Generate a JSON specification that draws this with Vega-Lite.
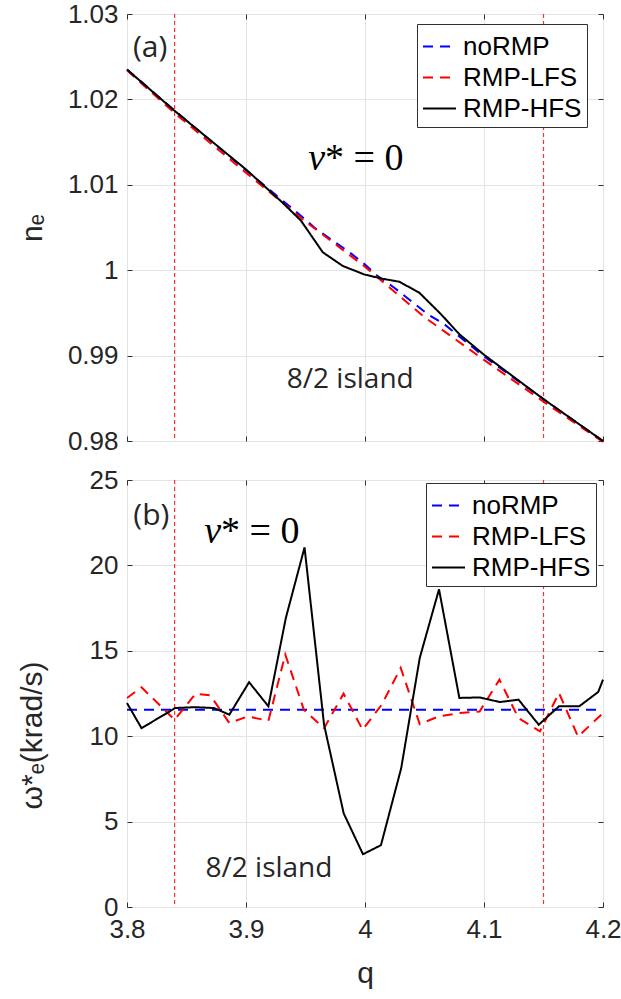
{
  "$schema": "https://vega.github.io/schema/vega-lite/v6.json",
  "padding": {"left": 16, "top": 0, "right": 0, "bottom": 0},
  "autosize": {"type": "pad"},
  "background": "white",
  "spacing": 39,
  "bounds": "flush",
  "config": {
    "font": "Liberation Sans",
    "view": {"stroke": "#303030", "strokeWidth": 1},
    "axis": {
      "labelFont": "Liberation Sans", "labelFontSize": 26, "labelColor": "#262626",
      "tickColor": "#303030", "domain": false, "gridColor": "#e4e4e4", "gridWidth": 1,
      "titleFont": "Liberation Sans", "titleFontSize": 30, "titleFontWeight": "normal", "titleColor": "#262626",
      "labelFlush": false, "labelOverlap": false, "labelBound": false
    },
    "legend": {
      "symbolType": "stroke", "symbolSize": 1089, "symbolStrokeWidth": 2,
      "labelFont": "Liberation Sans", "labelFontSize": 26, "labelColor": "#000000",
      "strokeColor": "#303030", "fillColor": "white", "padding": 5, "rowPadding": 0,
      "labelOffset": 6, "labelLimit": 300
    }
  },
  "datasets": {
    "ne": [
      {"q": 3.8, "v": 1.0235, "series": "noRMP"},
      {"q": 3.84, "v": 1.0187, "series": "noRMP"},
      {"q": 3.9, "v": 1.0117, "series": "noRMP"},
      {"q": 3.9434, "v": 1.0067, "series": "noRMP"},
      {"q": 3.9574, "v": 1.0050, "series": "noRMP"},
      {"q": 3.9714, "v": 1.0036, "series": "noRMP"},
      {"q": 3.9855, "v": 1.00225, "series": "noRMP"},
      {"q": 3.998, "v": 1.0009, "series": "noRMP"},
      {"q": 4.0107, "v": 0.9993, "series": "noRMP"},
      {"q": 4.0246, "v": 0.99795, "series": "noRMP"},
      {"q": 4.0387, "v": 0.99639, "series": "noRMP"},
      {"q": 4.0527, "v": 0.99484, "series": "noRMP"},
      {"q": 4.0667, "v": 0.99367, "series": "noRMP"},
      {"q": 4.1, "v": 0.9899, "series": "noRMP"},
      {"q": 4.15, "v": 0.9849, "series": "noRMP"},
      {"q": 4.2, "v": 0.98, "series": "noRMP"},
      {"q": 3.8, "v": 1.0234, "series": "RMP-LFS"},
      {"q": 3.84, "v": 1.0184, "series": "RMP-LFS"},
      {"q": 3.9, "v": 1.0114, "series": "RMP-LFS"},
      {"q": 3.95, "v": 1.0057, "series": "RMP-LFS"},
      {"q": 4.0, "v": 1.0004, "series": "RMP-LFS"},
      {"q": 4.05, "v": 0.9945, "series": "RMP-LFS"},
      {"q": 4.1, "v": 0.9895, "series": "RMP-LFS"},
      {"q": 4.15, "v": 0.9846, "series": "RMP-LFS"},
      {"q": 4.2, "v": 0.9799, "series": "RMP-LFS"},
      {"q": 3.8, "v": 1.0235, "series": "RMP-HFS"},
      {"q": 3.8405, "v": 1.0186, "series": "RMP-HFS"},
      {"q": 3.9, "v": 1.0118, "series": "RMP-HFS"},
      {"q": 3.9308, "v": 1.0079, "series": "RMP-HFS"},
      {"q": 3.9462, "v": 1.0058, "series": "RMP-HFS"},
      {"q": 3.9645, "v": 1.0021, "series": "RMP-HFS"},
      {"q": 3.9813, "v": 1.0005, "series": "RMP-HFS"},
      {"q": 3.9994, "v": 0.9995, "series": "RMP-HFS"},
      {"q": 4.0147, "v": 0.999, "series": "RMP-HFS"},
      {"q": 4.0288, "v": 0.99865, "series": "RMP-HFS"},
      {"q": 4.0456, "v": 0.99737, "series": "RMP-HFS"},
      {"q": 4.0639, "v": 0.99484, "series": "RMP-HFS"},
      {"q": 4.0793, "v": 0.9925, "series": "RMP-HFS"},
      {"q": 4.1, "v": 0.9901, "series": "RMP-HFS"},
      {"q": 4.15, "v": 0.9849, "series": "RMP-HFS"},
      {"q": 4.2, "v": 0.98, "series": "RMP-HFS"}
    ],
    "omega": [
      {"q": 3.8, "v": 11.55, "series": "noRMP"},
      {"q": 4.2, "v": 11.55, "series": "noRMP"},
      {"q": 3.8, "v": 12.24, "series": "RMP-LFS"},
      {"q": 3.8122, "v": 12.86, "series": "RMP-LFS"},
      {"q": 3.84, "v": 10.96, "series": "RMP-LFS"},
      {"q": 3.8577, "v": 12.49, "series": "RMP-LFS"},
      {"q": 3.870, "v": 12.39, "series": "RMP-LFS"},
      {"q": 3.886, "v": 10.77, "series": "RMP-LFS"},
      {"q": 3.9017, "v": 11.16, "series": "RMP-LFS"},
      {"q": 3.9188, "v": 10.9, "series": "RMP-LFS"},
      {"q": 3.933, "v": 14.78, "series": "RMP-LFS"},
      {"q": 3.9486, "v": 11.55, "series": "RMP-LFS"},
      {"q": 3.9656, "v": 10.47, "series": "RMP-LFS"},
      {"q": 3.982, "v": 12.49, "series": "RMP-LFS"},
      {"q": 3.998, "v": 10.38, "series": "RMP-LFS"},
      {"q": 4.014, "v": 11.84, "series": "RMP-LFS"},
      {"q": 4.030, "v": 14.0, "series": "RMP-LFS"},
      {"q": 4.046, "v": 10.71, "series": "RMP-LFS"},
      {"q": 4.062, "v": 11.16, "series": "RMP-LFS"},
      {"q": 4.079, "v": 11.35, "series": "RMP-LFS"},
      {"q": 4.0963, "v": 11.45, "series": "RMP-LFS"},
      {"q": 4.113, "v": 13.31, "series": "RMP-LFS"},
      {"q": 4.129, "v": 11.06, "series": "RMP-LFS"},
      {"q": 4.147, "v": 10.28, "series": "RMP-LFS"},
      {"q": 4.163, "v": 12.53, "series": "RMP-LFS"},
      {"q": 4.179, "v": 9.98, "series": "RMP-LFS"},
      {"q": 4.2, "v": 11.35, "series": "RMP-LFS"},
      {"q": 3.8, "v": 11.94, "series": "RMP-HFS"},
      {"q": 3.8122, "v": 10.47, "series": "RMP-HFS"},
      {"q": 3.8406, "v": 11.65, "series": "RMP-HFS"},
      {"q": 3.857, "v": 11.7, "series": "RMP-HFS"},
      {"q": 3.873, "v": 11.65, "series": "RMP-HFS"},
      {"q": 3.886, "v": 11.26, "series": "RMP-HFS"},
      {"q": 3.9026, "v": 13.16, "series": "RMP-HFS"},
      {"q": 3.9188, "v": 11.75, "series": "RMP-HFS"},
      {"q": 3.9335, "v": 16.93, "series": "RMP-HFS"},
      {"q": 3.9492, "v": 21.05, "series": "RMP-HFS"},
      {"q": 3.9656, "v": 10.67, "series": "RMP-HFS"},
      {"q": 3.9821, "v": 5.48, "series": "RMP-HFS"},
      {"q": 3.9983, "v": 3.09, "series": "RMP-HFS"},
      {"q": 4.0134, "v": 3.62, "series": "RMP-HFS"},
      {"q": 4.0304, "v": 8.12, "series": "RMP-HFS"},
      {"q": 4.046, "v": 14.58, "series": "RMP-HFS"},
      {"q": 4.0622, "v": 18.6, "series": "RMP-HFS"},
      {"q": 4.0793, "v": 12.24, "series": "RMP-HFS"},
      {"q": 4.0963, "v": 12.27, "series": "RMP-HFS"},
      {"q": 4.1134, "v": 12.0, "series": "RMP-HFS"},
      {"q": 4.129, "v": 12.14, "series": "RMP-HFS"},
      {"q": 4.146, "v": 10.67, "series": "RMP-HFS"},
      {"q": 4.163, "v": 11.75, "series": "RMP-HFS"},
      {"q": 4.18, "v": 11.75, "series": "RMP-HFS"},
      {"q": 4.196, "v": 12.59, "series": "RMP-HFS"},
      {"q": 4.2, "v": 13.31, "series": "RMP-HFS"}
    ],
    "islandEdges": [{"q": 3.84}, {"q": 4.15}],
    "annA": [
      {"q": 3.8194, "v": 1.026, "kind": "panel", "t": "(a)"},
      {"q": 3.9876, "v": 0.9871, "kind": "island", "t": "8/2 island"},
      {"q": 3.9664, "v": 1.0117, "kind": "nu", "t": "ν"},
      {"q": 3.9664, "v": 1.0117, "kind": "eq", "t": "* = 0"}
    ],
    "annB": [
      {"q": 3.8205, "v": 22.9, "kind": "panel", "t": "(b)"},
      {"q": 3.9193, "v": 2.21, "kind": "island", "t": "8/2 island"},
      {"q": 3.879, "v": 21.34, "kind": "nu", "t": "ν"},
      {"q": 3.879, "v": 21.34, "kind": "eq", "t": "* = 0"}
    ]
  },
  "resolve": {
    "scale": {"color": "independent", "strokeDash": "independent"},
    "legend": {"color": "independent", "strokeDash": "independent"}
  },
  "vconcat": [
    {
      "width": 476,
      "height": 427,
      "resolve": {"axis": {"x": "independent", "y": "independent"}},
      "layer": [
        {
          "data": {"name": "islandEdges"},
          "mark": {"type": "rule", "color": "#ff3030", "strokeDash": [4, 3], "strokeWidth": 1.2},
          "encoding": {
            "x": {"field": "q", "type": "quantitative", "scale": {"domain": [3.8, 4.2], "nice": false, "zero": false},
                  "axis": {"orient": "top", "labels": false, "grid": false, "tickSize": -5, "values": [3.8, 3.9, 4, 4.1, 4.2], "title": null}}
          }
        },
        {
          "data": {"name": "ne"},
          "mark": {"type": "line", "strokeWidth": 2},
          "encoding": {
            "x": {"field": "q", "type": "quantitative", "scale": {"domain": [3.8, 4.2], "nice": false, "zero": false},
                  "axis": {"orient": "bottom", "labels": false, "grid": true, "tickSize": -5, "values": [3.8, 3.9, 4, 4.1, 4.2], "title": null}},
            "y": {"field": "v", "type": "quantitative", "scale": {"domain": [0.98, 1.03], "nice": false, "zero": false},
                  "axis": {"orient": "left", "grid": true, "tickSize": -5, "labelPadding": 14, "values": [0.98, 0.99, 1, 1.01, 1.02, 1.03], "format": "~g", "title": "nₑ", "titleX": -95, "titleBaseline": "middle"}},
            "color": {"field": "series", "type": "nominal",
                      "scale": {"domain": ["noRMP", "RMP-LFS", "RMP-HFS"], "range": ["#0000ff", "#ff0000", "#000000"]},
                      "legend": {"orient": "none", "legendX": 290, "legendY": 10, "title": null}},
            "strokeDash": {"field": "series", "type": "nominal",
                      "scale": {"domain": ["noRMP", "RMP-LFS", "RMP-HFS"], "range": [[10, 7], [10, 7], [1, 0]]},
                      "legend": {"orient": "none", "legendX": 290, "legendY": 10, "title": null}}
          }
        },
        {
          "data": {"name": "annA"},
          "transform": [{"filter": "datum.kind == 'panel'"}],
          "mark": {"type": "text", "font": "Open Sans", "fontSize": 30, "color": "#262626", "align": "center", "baseline": "middle"},
          "encoding": {
            "x": {"field": "q", "type": "quantitative", "axis": null},
            "y": {"field": "v", "type": "quantitative", "axis": {"orient": "right", "labels": false, "grid": false, "tickSize": -5, "values": [0.98, 0.99, 1, 1.01, 1.02, 1.03], "title": null}},
            "text": {"field": "t"}
          }
        },
        {
          "data": {"name": "annA"},
          "transform": [{"filter": "datum.kind == 'island'"}],
          "mark": {"type": "text", "font": "Open Sans", "fontSize": 28, "color": "#262626", "align": "center", "baseline": "middle"},
          "encoding": {
            "x": {"field": "q", "type": "quantitative", "axis": null},
            "y": {"field": "v", "type": "quantitative", "axis": null},
            "text": {"field": "t"}
          }
        },
        {
          "data": {"name": "annA"},
          "transform": [{"filter": "datum.kind == 'nu'"}],
          "mark": {"type": "text", "font": "Liberation Serif", "fontStyle": "italic", "fontSize": 38, "color": "#000000", "align": "right", "baseline": "alphabetic"},
          "encoding": {
            "x": {"field": "q", "type": "quantitative", "axis": null},
            "y": {"field": "v", "type": "quantitative", "axis": null},
            "text": {"field": "t"}
          }
        },
        {
          "data": {"name": "annA"},
          "transform": [{"filter": "datum.kind == 'eq'"}],
          "mark": {"type": "text", "font": "Liberation Serif", "fontSize": 38, "color": "#000000", "align": "left", "baseline": "alphabetic"},
          "encoding": {
            "x": {"field": "q", "type": "quantitative", "axis": null},
            "y": {"field": "v", "type": "quantitative", "axis": null},
            "text": {"field": "t"}
          }
        }
      ]
    },
    {
      "width": 476,
      "height": 427,
      "resolve": {"axis": {"x": "independent", "y": "independent"}},
      "layer": [
        {
          "data": {"name": "islandEdges"},
          "mark": {"type": "rule", "color": "#ff3030", "strokeDash": [4, 3], "strokeWidth": 1.2},
          "encoding": {
            "x": {"field": "q", "type": "quantitative", "scale": {"domain": [3.8, 4.2], "nice": false, "zero": false},
                  "axis": {"orient": "top", "labels": false, "grid": false, "tickSize": -5, "values": [3.8, 3.9, 4, 4.1, 4.2], "title": null}}
          }
        },
        {
          "data": {"name": "omega"},
          "mark": {"type": "line", "strokeWidth": 2},
          "encoding": {
            "x": {"field": "q", "type": "quantitative", "scale": {"domain": [3.8, 4.2], "nice": false, "zero": false},
                  "axis": {"orient": "bottom", "grid": true, "tickSize": -5, "labelPadding": 14, "values": [3.8, 3.9, 4, 4.1, 4.2], "format": "~g", "title": "q", "titlePadding": 16}},
            "y": {"field": "v", "type": "quantitative", "scale": {"domain": [0, 25], "nice": false, "zero": false},
                  "axis": {"orient": "left", "grid": true, "tickSize": -5, "labelPadding": 14, "values": [0, 5, 10, 15, 20, 25], "format": "~g", "title": "ω*ₑ(krad/s)", "titleX": -95, "titleY": 255, "titleBaseline": "middle"}},
            "color": {"field": "series", "type": "nominal",
                      "scale": {"domain": ["noRMP", "RMP-LFS", "RMP-HFS"], "range": ["#0000ff", "#ff0000", "#000000"]},
                      "legend": {"orient": "none", "legendX": 299, "legendY": 3, "title": null}},
            "strokeDash": {"field": "series", "type": "nominal",
                      "scale": {"domain": ["noRMP", "RMP-LFS", "RMP-HFS"], "range": [[10, 7], [10, 7], [1, 0]]},
                      "legend": {"orient": "none", "legendX": 299, "legendY": 3, "title": null}}
          }
        },
        {
          "data": {"name": "annB"},
          "transform": [{"filter": "datum.kind == 'panel'"}],
          "mark": {"type": "text", "font": "Open Sans", "fontSize": 30, "color": "#262626", "align": "center", "baseline": "middle"},
          "encoding": {
            "x": {"field": "q", "type": "quantitative", "axis": null},
            "y": {"field": "v", "type": "quantitative", "axis": {"orient": "right", "labels": false, "grid": false, "tickSize": -5, "values": [0, 5, 10, 15, 20, 25], "title": null}},
            "text": {"field": "t"}
          }
        },
        {
          "data": {"name": "annB"},
          "transform": [{"filter": "datum.kind == 'island'"}],
          "mark": {"type": "text", "font": "Open Sans", "fontSize": 28, "color": "#262626", "align": "center", "baseline": "middle"},
          "encoding": {
            "x": {"field": "q", "type": "quantitative", "axis": null},
            "y": {"field": "v", "type": "quantitative", "axis": null},
            "text": {"field": "t"}
          }
        },
        {
          "data": {"name": "annB"},
          "transform": [{"filter": "datum.kind == 'nu'"}],
          "mark": {"type": "text", "font": "Liberation Serif", "fontStyle": "italic", "fontSize": 38, "color": "#000000", "align": "right", "baseline": "alphabetic"},
          "encoding": {
            "x": {"field": "q", "type": "quantitative", "axis": null},
            "y": {"field": "v", "type": "quantitative", "axis": null},
            "text": {"field": "t"}
          }
        },
        {
          "data": {"name": "annB"},
          "transform": [{"filter": "datum.kind == 'eq'"}],
          "mark": {"type": "text", "font": "Liberation Serif", "fontSize": 38, "color": "#000000", "align": "left", "baseline": "alphabetic"},
          "encoding": {
            "x": {"field": "q", "type": "quantitative", "axis": null},
            "y": {"field": "v", "type": "quantitative", "axis": null},
            "text": {"field": "t"}
          }
        }
      ]
    }
  ]
}
